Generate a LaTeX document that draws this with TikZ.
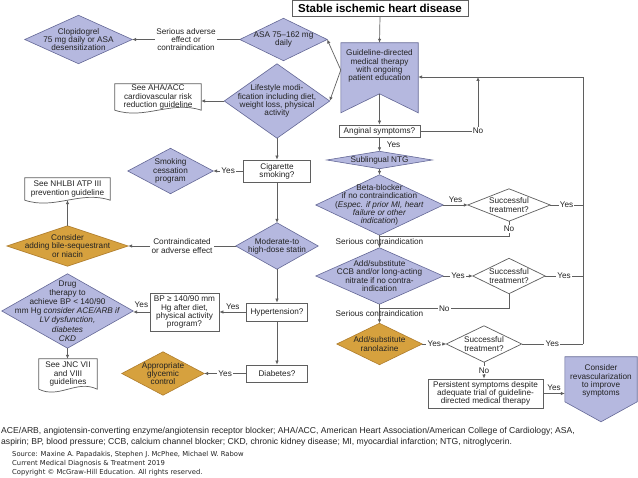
\documentclass[tikz,border=0pt]{standalone}
\usepackage{fontspec}
\setmainfont{Liberation Sans}
\newfontfamily\srcfont{DejaVu Sans}
\usetikzlibrary{arrows.meta,calc}
\pgfdeclarelayer{background}
\pgfsetlayers{background,main}
\definecolor{lav}{RGB}{181,184,223}
\definecolor{lavd}{RGB}{100,104,150}
\definecolor{org}{RGB}{214,161,62}
\definecolor{orgd}{RGB}{175,125,45}
\definecolor{lncol}{RGB}{95,95,95}
\definecolor{tx}{RGB}{35,35,35}
\tikzset{
 txt/.style={inner sep=0pt, align=center, text=tx, font=\fontsize{8.2}{8.2}\selectfont},
 box/.style={txt, draw=lncol, line width=0.7pt, fill=white},
 lbl/.style={txt, fill=white, inner sep=1.2pt},
 lblc/.style={txt, inner sep=1pt},
 arr/.style={draw=lncol, line width=0.7pt, -{Latex[length=4pt,width=3.5pt]}},
 plain/.style={draw=lncol, line width=0.7pt},
 lavshape/.style={fill=lav, draw=lavd, line width=0.6pt},
 orgshape/.style={fill=org, draw=orgd, line width=0.6pt},
 whshape/.style={fill=white, draw=lncol, line width=0.7pt},
 foot/.style={inner sep=0pt, anchor=west, text=tx, font=\fontsize{8.6}{10}\selectfont},
 src/.style={inner sep=0pt, anchor=west, text=tx, font=\srcfont\fontsize{6.8}{8}\selectfont},
}
\newcommand\dnode[7][]{%
 \node[txt, minimum width=#4pt, minimum height=#5pt, #1] (#2) at #3 {#7};
 \begin{pgfonlayer}{background}
 \path[#6] (#2.north) -- (#2.east) -- (#2.south) -- (#2.west) -- cycle;
 \end{pgfonlayer}}
\newcommand\docnode[5]{%
 \node[txt, minimum width=#3pt, minimum height=#4pt] (#1) at #2 {#5};
 \begin{pgfonlayer}{background}
 \path[whshape] (#1.south west) -- (#1.north west) -- (#1.north east) -- (#1.south east)
   .. controls +(-#3*0.35,-10) and +(#3*0.35,10) .. (#1.south west) -- cycle;
 \end{pgfonlayer}}
\begin{document}
\begin{tikzpicture}[x=1pt,y=-1pt]
\begin{pgfonlayer}{background}
\fill[white] (0,0) rectangle (638,478);
\end{pgfonlayer}
\useasboundingbox (0,0) rectangle (638,478);

% ---------- right column ----------
\node[box, font=\fontsize{11.5}{12}\bfseries\selectfont, text=black, minimum width=176pt, minimum height=16pt] (title) at (380,8.3) {Stable ischemic heart disease};

\node[txt, minimum width=77pt, minimum height=46pt] (gdmt) at (379.5,66) {Guideline-directed\\medical therapy\\with ongoing\\patient education};
\begin{pgfonlayer}{background}
\path[lavshape] (gdmt.north west) -- (gdmt.north east) -- ([yshift=-70pt]gdmt.north east) -- ([yshift=-51pt]gdmt.north) -- ([yshift=-70pt]gdmt.north west) -- cycle;
\end{pgfonlayer}
\coordinate (gdmtnotch) at ([yshift=-51pt]gdmt.north);

\node[box, minimum width=81pt, minimum height=12pt] (ang) at (379.5,131) {Anginal symptoms?};
\dnode{ntg}{(379.5,160)}{105}{17}{lavshape}{Sublingual NTG}
\dnode{beta}{(379.5,205)}{127}{60}{lavshape}{Beta-blocker\\if no contraindication\\(\textit{Espec. if prior MI, heart}\\\textit{failure or other}\\\textit{indication})}
\dnode{sa}{(509,205)}{82}{32}{whshape}{Successful\\treatment?}
\dnode{ccb}{(379.5,276)}{127}{56}{lavshape}{Add/substitute\\CCB and/or long-acting\\nitrate if no contra-\\indication}
\dnode{sb}{(509,276)}{72}{35}{whshape}{Successful\\treatment?}
\dnode{rano}{(379.5,344)}{85}{41}{orgshape}{Add/substitute\\ranolazine}
\dnode{sc}{(484,344)}{75}{36}{whshape}{Successful\\treatment?}
\node[box, minimum width=115pt, minimum height=29pt] (pers) at (485.5,393.5) {Persistent symptoms despite\\adequate trial of guideline-\\directed medical therapy};

\node[txt, minimum width=72pt, minimum height=48pt] (rev) at (601,381) {Consider\\revascularization\\to improve\\symptoms};
\begin{pgfonlayer}{background}
\path[lavshape] (rev.north west) -- (rev.north east) -- ([yshift=-45pt]rev.north east) -- ([yshift=-65pt]rev.north) -- ([yshift=-45pt]rev.north west) -- cycle;
\end{pgfonlayer}

\coordinate (loopTop) at (583,77);
\coordinate (loopBot) at (583,344);
\coordinate (noturn) at (478,131);
\coordinate (noTop) at (478,77);
\coordinate (naturn) at (509,236.5);
\coordinate (nbturn) at (509,308.5);

% ---------- left part ----------
\dnode{asa}{(283.5,39.5)}{87}{42}{lavshape}{ASA 75--162 mg\\daily}
\dnode{clop}{(78.5,39.5)}{107}{48}{lavshape}{Clopidogrel\\75 mg daily or ASA\\desensitization}
\dnode{life}{(277,101)}{105}{74}{lavshape}{Lifestyle modi-\\fication including diet,\\weight loss, physical\\activity}
\docnode{aha}{(158,97)}{86}{26}{See AHA/ACC\\cardiovascular risk\\reduction guideline}
\node[box, minimum width=67pt, minimum height=22pt] (cig) at (277,171) {Cigarette\\smoking?};
\dnode{smoke}{(170.5,171)}{85}{45}{lavshape}{Smoking\\cessation\\program}
\dnode{statin}{(277,246)}{82}{46}{lavshape}{Moderate-to\\high-dose statin}
\dnode{bile}{(67.5,246)}{121}{40}{orgshape}{Consider\\adding bile-sequestrant\\or niacin}
\docnode{nhlbi}{(67.5,189)}{85}{22}{See NHLBI ATP III\\prevention guideline}
\node[box, minimum width=61pt, minimum height=18pt] (hyp) at (277,312) {Hypertension?};
\node[box, minimum width=69pt, minimum height=38pt] (bp) at (184.5,312) {BP ≥ 140/90 mm\\Hg after diet,\\physical activity\\program?};
\dnode[font=\fontsize{8.2}{9.2}\selectfont]{drug}{(67.5,311)}{131}{74}{lavshape}{Drug\\therapy to\\achieve BP < 140/90\\mm Hg \textit{consider ACE/ARB if}\\\textit{LV dysfunction,}\\\textit{diabetes}\\\textit{CKD}}
\docnode{jnc}{(68,374)}{58}{30}{See JNC VII\\and VIII\\guidelines}
\node[box, minimum width=61pt, minimum height=17pt] (diab) at (277,373.5) {Diabetes?};
\dnode{gly}{(163,373.5)}{82}{43}{orgshape}{Appropriate\\glycemic\\control}

% ---------- connectors ----------
\draw[arr] (title.south) -- (gdmt.north);
\draw[arr] ([yshift=-4pt]gdmt.west) -- (asa.east);
\draw[arr] ([yshift=-4pt]gdmt.west) -- (life.east);
\draw[arr] (asa.west) -- node[lbl] (lsae) {Serious adverse\\effect or\\contraindication} (clop.east);
\draw[arr] (life.west) -- (life.west -| aha.east);
\draw[arr] (life.south) -- (cig.north);
\draw[arr] (cig.west) -- node[lbl] (lycig) {Yes} (smoke.east);
\draw[arr] (cig.south) -- (statin.north);
\draw[arr] (statin.west) -- node[lbl] (lcon) {Contraindicated\\or adverse effect} (bile.east);
\draw[arr] (bile.north) -- (nhlbi.south);
\draw[arr] (statin.south) -- (hyp.north);
\draw[arr] (hyp.west) -- node[lblc, above, yshift=1pt] (lyhyp) {Yes} (bp.east);
\draw[arr] (bp.west) -- node[lblc, above, yshift=3pt] (lybp) {Yes} (bp.west -| drug.east);
\draw[arr] (drug.south) -- (drug.south |- jnc.north);
\draw[arr] (hyp.south) -- (diab.north);
\draw[arr] (diab.west) -- node[lbl] (lydiab) {Yes} (gly.east);

\draw[arr] (gdmtnotch) -- (ang.north);
\draw[arr] (ang.east) -- (noturn) node[lbl] (lnoang) {No} -- (noTop);
\draw[arr] (loopBot) -- (loopTop) -- (gdmt.east |- loopTop);
\draw[arr] (ang.south) -- node[lblc, right, xshift=6pt] (lyang) {Yes} (ntg.north);
\draw[arr] (ntg.south) -- (beta.north);
\draw[arr] (beta.east) -- node[lblc, above, yshift=1pt] (lybeta) {Yes} (sa.west);
\draw[plain] (sa.east) -- node[lbl] (lysa) {Yes} (sa.east -| loopTop);
\draw[plain] (sa.south) -- node[lbl] (lnsa) {No} (naturn) -- (naturn -| beta.south);
\draw[arr] (beta.south) -- node[lblc] (lsc1) {Serious contraindication} (ccb.north);
\draw[arr] (ccb.east) -- node[lbl] (lyccb) {Yes} (sb.west);
\draw[plain] (sb.east) -- node[lbl] (lysb) {Yes} (sb.east -| loopTop);
\draw[plain] (sb.south) -- (nbturn) -- node[lbl] (lnsb) {No} (nbturn -| ccb.south);
\draw[arr] (ccb.south) -- node[lblc] (lsc2) {Serious contraindication} (rano.north);
\draw[arr] (rano.east) -- node[lbl] (lyrano) {Yes} (sc.west);
\draw[plain] (sc.east) -- node[lbl] (lysc) {Yes} (loopBot);
\draw[arr] (sc.south) -- node[lbl] (lnsc) {No} (sc.south |- pers.north);
\draw[arr] (pers.east) -- node[lblc, above, yshift=2pt] (lypers) {Yes} (pers.east -| rev.west);

% ---------- footer ----------
\node[foot] (fn1) at (1,431) {ACE/ARB, angiotensin-converting enzyme/angiotensin receptor blocker; AHA/ACC, American Heart Association/American College of Cardiology; ASA,};
\node[foot] (fn2) at (1,442) {aspirin; BP, blood pressure; CCB, calcium channel blocker; CKD, chronic kidney disease; MI, myocardial infarction; NTG, nitroglycerin.};
\node[src] (s1) at (12,455) {Source: Maxine A. Papadakis, Stephen J. McPhee, Michael W. Rabow};
\node[src] (s2) at (12,464) {Current Medical Diagnosis \& Treatment 2019};
\node[src] (s3) at (12,473) {Copyright © McGraw-Hill Education. All rights reserved.};
\end{tikzpicture}
\end{document}
